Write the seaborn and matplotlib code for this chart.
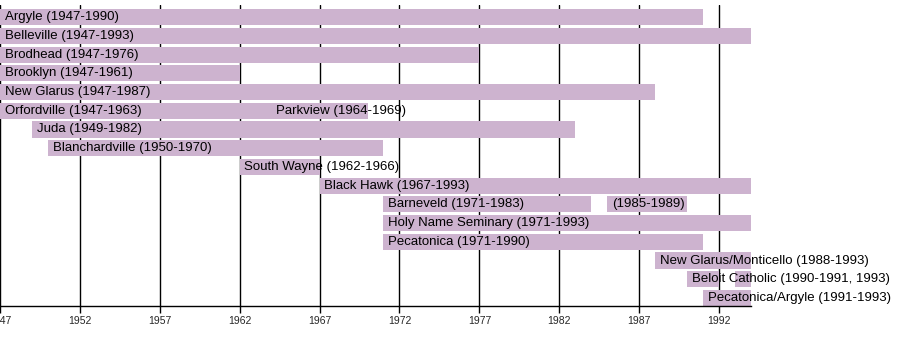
import matplotlib
matplotlib.use('Agg')
import matplotlib.pyplot as plt
import seaborn as sns
import pandas as pd

sns.set_style('white')
plt.rcParams['font.family'] = ['Liberation Sans', 'DejaVu Sans']

# one row per line of the timeline
ROWS = [
    'Argyle', 'Belleville', 'Brodhead', 'Brooklyn', 'New Glarus',
    'Orfordville', 'Juda', 'Blanchardville', 'South Wayne', 'Black Hawk',
    'Barneveld', 'Holy Name Seminary', 'Pecatonica',
    'New Glarus/Monticello', 'Beloit Catholic', 'Pecatonica/Argyle',
]

# segments: row, first year, last year, text
seg_row = [
    'Argyle', 'Belleville', 'Brodhead', 'Brooklyn', 'New Glarus',
    'Orfordville', 'Orfordville', 'Juda', 'Blanchardville', 'South Wayne',
    'Black Hawk', 'Barneveld', 'Barneveld', 'Holy Name Seminary',
    'Pecatonica', 'New Glarus/Monticello', 'Beloit Catholic',
    'Beloit Catholic', 'Pecatonica/Argyle',
]
seg_start = [1947, 1947, 1947, 1947, 1947, 1947, 1964, 1949, 1950, 1962,
             1967, 1971, 1985, 1971, 1971, 1988, 1990, 1993, 1991]
seg_end = [1990, 1993, 1976, 1961, 1987, 1963, 1969, 1982, 1970, 1966,
           1993, 1983, 1989, 1993, 1990, 1993, 1991, 1993, 1993]
seg_label = [
    'Argyle (1947-1990)', 'Belleville (1947-1993)', 'Brodhead (1947-1976)',
    'Brooklyn (1947-1961)', 'New Glarus (1947-1987)',
    'Orfordville (1947-1963)', 'Parkview (1964-1969)', 'Juda (1949-1982)',
    'Blanchardville (1950-1970)', 'South Wayne (1962-1966)',
    'Black Hawk (1967-1993)', 'Barneveld (1971-1983)', '(1985-1989)',
    'Holy Name Seminary (1971-1993)', 'Pecatonica (1971-1990)',
    'New Glarus/Monticello (1988-1993)', 'Beloit Catholic (1990-1991, 1993)',
    '', 'Pecatonica/Argyle (1991-1993)',
]

TICKS = list(range(1947, 1993, 5))
BAR_COLOR = '#cdb3cf'

df = pd.DataFrame({'row': seg_row, 'start': seg_start, 'end': seg_end,
                   'label': seg_label})
df['y'] = df['row'].map({r: i for i, r in enumerate(ROWS)})
# a season listed as "1990" runs through the whole year
df['width'] = df['end'] - df['start'] + 1

fig = plt.figure(figsize=(9, 3.55), dpi=100)
ax = fig.add_axes([0, 49 / 355, 751 / 900, 301 / 355])

ax.barh(df['y'], df['width'], left=df['start'], height=0.86,
        color=BAR_COLOR, edgecolor='none', zorder=2)

for _, r in df.iterrows():
    if r['label']:
        ax.text(r['start'] + 0.3, r['y'], r['label'], va='center', ha='left',
                fontsize=9.5, color='black', clip_on=False, zorder=3)

ax.set_xlim(1947, 1994)
ax.set_ylim(15.43, -0.65)
ax.set_xticks(TICKS)
ax.set_xticklabels([str(t) for t in TICKS], fontsize=7.5)
ax.set_yticks([])
ax.xaxis.grid(True, color='black', linewidth=1)
ax.set_axisbelow(True)
ax.tick_params(axis='x', direction='out', length=5, width=1, color='black',
               pad=2, bottom=True)
for side in ['top', 'right', 'left']:
    ax.spines[side].set_visible(False)
ax.spines['bottom'].set_color('black')
ax.spines['bottom'].set_linewidth(1)

fig.savefig('out.png', dpi=100)
